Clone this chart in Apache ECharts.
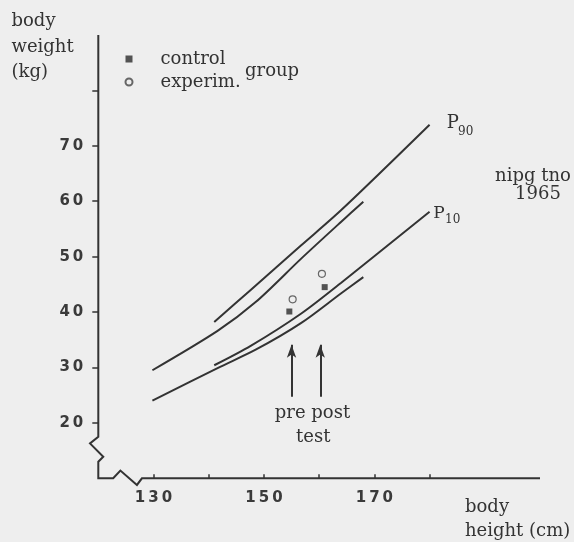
<!DOCTYPE html>
<html>
<head>
<meta charset="utf-8">
<style>
  html, body { margin: 0; padding: 0; background: #eeeeee; }
  #chart_weight { width: 574px; height: 542px; }
</style>
<script src="https://cdn.jsdelivr.net/npm/echarts@6.0.0/dist/echarts.min.js"></script>
</head>
<body>
<div id="chart_weight"></div>
<script>
// 参考曲线 A (130-168 cm)
var heightsA = [129.8, 141.6, 148.5, 156.7, 164.0, 168.0];
var upperA = [29.5, 36.6, 41.8, 49.6, 56.3, 59.9];
var lowerA = [24.0, 29.9, 33.2, 38.0, 43.4, 46.3];
// nipg tno 1965, P90 / P10
var heightsB = [141.0, 147.6, 156.7, 164.0, 180.0];
var p90 = [38.2, 44.0, 52.0, 58.4, 73.8];
var p10 = [30.4, 33.9, 39.7, 45.3, 58.1];
// pre / post test
var testHeights = [155.0, 160.2];
var controlGroup = [[154.6, 40.1], [161.0, 44.5]];
var experimGroup = [[155.2, 42.3], [160.5, 46.9]];
// ticks
var xTicks = [130, 140, 150, 160, 170, 180];
var xLabels = [130, 150, 170];
var yTicks = [20, 30, 40, 50, 60, 70, 80];
var yLabels = [20, 30, 40, 50, 60, 70];
// axes with breaks (data units)
var axisPath = [[120, 90], [120, 17.5], [118.5, 16.3], [120.9, 13.9], [120, 13.0], [120, 10],
  [122.7, 10], [124.0, 11.4], [127.0, 8.8], [127.9, 10], [200, 10]];

var ink = '#333';
var serif = 'DejaVu Serif';

function pairs(xs, ys) {
  return xs.map(function (x, i) { return [x, ys[i]]; });
}
function spaced(v) {
  return String(v).split('').join('\u2009');
}
function curve(name, xs, ys) {
  return {
    name: name, type: 'line', data: pairs(xs, ys), smooth: 0.3,
    showSymbol: false, silent: true,
    lineStyle: { color: ink, width: 2 }
  };
}
function txt(id, text, x, y, size, align) {
  return {
    id: id, type: 'text', x: x, y: y, silent: true,
    style: { text: text, fill: ink, font: size + 'px "' + serif + '"', align: align || 'left', verticalAlign: 'middle' }
  };
}

var tickLabel = { color: '#3a3a3a', fontFamily: 'DejaVu Sans', fontWeight: 'bold', fontSize: 15 };

var option = {
  animation: false,
  backgroundColor: '#eeeeee',
  grid: { left: 98.3, right: 34, top: 35, bottom: 63.7 },
  legend: {
    orient: 'vertical', left: 124.5, top: 50, padding: 0,
    itemWidth: 7, itemHeight: 7, itemGap: 5,
    data: ['control', 'experim.'],
    textStyle: { color: ink, fontFamily: serif, fontSize: 18, lineHeight: 18, padding: [0, 0, 0, 23] }
  },
  xAxis: {
    type: 'value', min: 120, max: 200,
    splitLine: { show: false },
    axisLine: { show: false },
    axisTick: { show: true, inside: true, length: 4, customValues: xTicks, lineStyle: { color: ink, width: 1.5 } },
    axisLabel: Object.assign({ customValues: xLabels, margin: 12, formatter: spaced }, tickLabel)
  },
  yAxis: {
    type: 'value', min: 10, max: 90,
    splitLine: { show: false },
    axisLine: { show: false },
    axisTick: { show: true, length: 6, customValues: yTicks, lineStyle: { color: ink, width: 1.5 } },
    axisLabel: Object.assign({ customValues: yLabels, margin: 15, formatter: spaced }, tickLabel)
  },
  series: [
    curve('A upper', heightsA, upperA),
    curve('A lower', heightsA, lowerA),
    curve('P90', heightsB, p90),
    curve('P10', heightsB, p10),
    {
      name: 'control', type: 'scatter', data: controlGroup,
      symbol: 'rect', symbolSize: 6,
      itemStyle: { color: '#2a2a2a' },
      markLine: {
        silent: true, symbol: ['none', 'arrow'], symbolSize: [7, 13],
        label: { show: false },
        lineStyle: { color: ink, width: 2, type: 'solid' },
        data: testHeights.map(function (h) { return [{ coord: [h, 24.7] }, { coord: [h, 34.1] }]; })
      }
    },
    {
      name: 'experim.', type: 'scatter', data: experimGroup,
      symbol: 'circle', symbolSize: 7,
      itemStyle: { color: 'rgba(0,0,0,0)', borderColor: '#444', borderWidth: 1.2 }
    }
  ],
  graphic: [
    {
      id: 'ytitle', type: 'text', left: 11.5, top: 9, silent: true,
      style: { text: 'body\nweight\n(kg)', fill: ink, font: '18px "' + serif + '"', lineHeight: 25.5 }
    },
    txt('group', 'group', 245, 71.6, 18),
    txt('p90a', 'P', 446.7, 122.9, 18),
    txt('p90b', '90', 458, 131.4, 12),
    txt('p10a', 'P', 433.3, 213.2, 17),
    txt('p10b', '10', 445, 219.7, 12),
    txt('src1', 'nipg tno', 533, 176.6, 18, 'center'),
    txt('src2', '1965', 538, 194.6, 18, 'center'),
    txt('test1', 'pre post', 312.5, 413.6, 18, 'center'),
    txt('test2', 'test', 313.3, 437.6, 18, 'center'),
    txt('xt1', 'body', 465, 507.6, 18),
    txt('xt2', 'height (cm)', 465, 531.6, 18)
  ]
};

var chart = echarts.init(document.getElementById('chart_weight'));
chart.setOption(option);

// 坐标轴折断线: 数据坐标转像素
var axisPixels = axisPath.map(function (p) {
  return chart.convertToPixel({ gridIndex: 0 }, p);
});
chart.setOption({
  graphic: [{
    id: 'axes', type: 'polyline', silent: true,
    shape: { points: axisPixels },
    style: { stroke: ink, lineWidth: 2, fill: null }
  }]
});
</script>
</body>
</html>
